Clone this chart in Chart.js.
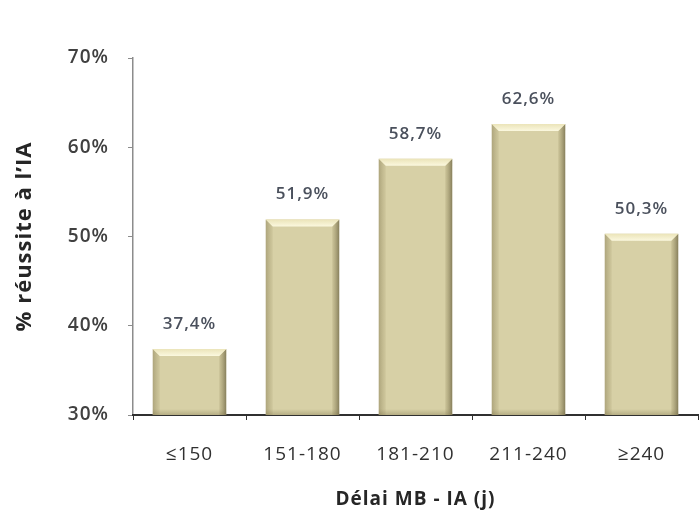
<!DOCTYPE html>
<html>
<head>
<meta charset="utf-8">
<script src="https://cdn.jsdelivr.net/npm/chart.js@4.4.1/dist/chart.umd.min.js"></script>
<style>
html,body{margin:0;padding:0;background:#fff;}
#wrap{width:699px;height:515px;position:relative;}
</style>
</head>
<body>
<div id="wrap"><canvas id="c" width="699" height="515"></canvas></div>
<script>
const categories = ['≤150', '151-180', '181-210', '211-240', '≥240'];
const successRates = [37.4, 51.9, 58.7, 62.6, 50.3];
const valueLabels = ['37,4%', '51,9%', '58,7%', '62,6%', '50,3%'];
const yTitle = '% réussite à l\u2019IA';
const xTitle = 'Délai MB - IA (j)';

const FONT = "'Open Sans', 'DejaVu Sans', sans-serif";

const spacingPlugin = {
  id: 'spacing',
  beforeDraw(chart) { chart.ctx.letterSpacing = '1px'; }
};

const bevelPlugin = {
  id: 'bevel',
  afterDatasetsDraw(chart) {
    const ctx = chart.ctx;
    const meta = chart.getDatasetMeta(0);
    const b = chart.scales.y.getPixelForValue(chart.scales.y.min);
    meta.data.forEach((bar, i) => {
      const p = bar.getProps(['x', 'y', 'width'], true);
      const l = p.x - p.width / 2, r = p.x + p.width / 2;
      const t = p.y;
      const bv = 7;
      ctx.save();
      // left side
      let g = ctx.createLinearGradient(l, 0, l + bv, 0);
      g.addColorStop(0, 'rgba(140,130,90,0.55)');
      g.addColorStop(1, 'rgba(160,150,105,0.15)');
      ctx.beginPath();
      ctx.moveTo(l, t); ctx.lineTo(l + bv, t + bv); ctx.lineTo(l + bv, b); ctx.lineTo(l, b); ctx.closePath();
      ctx.fillStyle = g; ctx.fill();
      // right side
      g = ctx.createLinearGradient(r - bv, 0, r, 0);
      g.addColorStop(0, 'rgba(150,140,95,0.2)');
      g.addColorStop(1, 'rgba(100,92,60,0.7)');
      ctx.beginPath();
      ctx.moveTo(r, t); ctx.lineTo(r - bv, t + bv); ctx.lineTo(r - bv, b); ctx.lineTo(r, b); ctx.closePath();
      ctx.fillStyle = g; ctx.fill();
      // top
      g = ctx.createLinearGradient(0, t, 0, t + bv);
      g.addColorStop(0, '#ebe4b9');
      g.addColorStop(1, '#fbf8df');
      ctx.beginPath();
      ctx.moveTo(l, t); ctx.lineTo(r, t); ctx.lineTo(r - bv, t + bv); ctx.lineTo(l + bv, t + bv); ctx.closePath();
      ctx.fillStyle = g; ctx.fill();
      // bottom shade
      g = ctx.createLinearGradient(0, b - 6, 0, b);
      g.addColorStop(0, 'rgba(120,110,70,0)');
      g.addColorStop(1, 'rgba(120,110,70,0.35)');
      ctx.fillStyle = g;
      ctx.fillRect(l, b - 6, r - l, 6);
      // label
      ctx.fillStyle = '#4a505c';
      ctx.letterSpacing = '1px';
      ctx.font = "600 17px " + FONT;
      ctx.textAlign = 'center'; ctx.textBaseline = 'middle';
      ctx.fillText(valueLabels[i], p.x, t - 25);
      ctx.restore();
    });
  }
};

new Chart(document.getElementById('c'), {
  type: 'bar',
  data: {
    labels: categories,
    datasets: [{
      data: successRates,
      backgroundColor: '#d7d0a6',
      borderWidth: 0,
      categoryPercentage: 1,
      barPercentage: 0.65
    }]
  },
  options: {
    responsive: false,
    animation: false,
    layout: { padding: { top: 58, right: 1, left: 0, bottom: 0 } },
    plugins: { legend: { display: false }, tooltip: { enabled: false } },
    scales: {
      y: {
        min: 30, max: 70,
        ticks: {
          stepSize: 10,
          callback: v => v + '%',
          color: '#404040',
          font: { family: FONT, size: 19, weight: '600' },
          padding: 19
        },
        grid: { drawOnChartArea: false, tickLength: 5, color: '#8c8c8c' },
        border: { color: '#8c8c8c', width: 1.5 },
        title: {
          display: true, text: yTitle, color: '#262626',
          font: { family: FONT, size: 22, weight: 'bold' },
          padding: { top: 12, bottom: 0 }
        },
        afterFit(scale) { scale.width = 133; }
      },
      x: {
        ticks: {
          color: '#303030',
          font: { family: FONT, size: 19 },
          padding: 23
        },
        grid: { drawOnChartArea: false, tickLength: 5, color: '#303030', offset: true },
        border: { color: '#303030', width: 2 },
        title: {
          display: true, text: xTitle, color: '#262626',
          font: { family: FONT, size: 19, weight: 'bold' },
          padding: { top: 5 }
        },
        afterFit(scale) { scale.height = 100; }
      }
    }
  },
  plugins: [spacingPlugin, bevelPlugin]
});
</script>
</body>
</html>
